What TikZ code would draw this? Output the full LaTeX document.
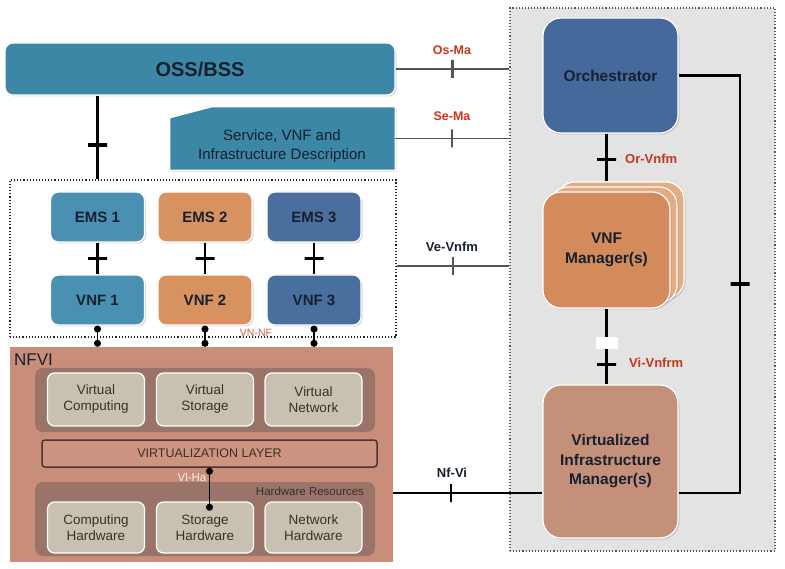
\documentclass[tikz,border=0pt]{standalone}
\usepackage{fontspec}
\setmainfont{Liberation Sans}
\usetikzlibrary{shadows,calc,arrows.meta}
\definecolor{ossc}{HTML}{3C87A5}
\definecolor{emsa}{HTML}{4A90B2}
\definecolor{emsb}{HTML}{D8925F}
\definecolor{emsc}{HTML}{4A6E9E}
\definecolor{orchc}{HTML}{46699B}
\definecolor{vnfmc}{HTML}{D38B5B}
\definecolor{vnfmback}{HTML}{E4AC82}
\definecolor{vimc}{HTML}{C5907A}
\definecolor{nfvic}{HTML}{C98E7A}
\definecolor{grpc}{HTML}{9A7468}
\definecolor{sboxc}{HTML}{C8C1B1}
\definecolor{vlfill}{HTML}{CD9581}
\definecolor{vlborder}{HTML}{4B3530}
\definecolor{manogray}{HTML}{E3E3E3}
\definecolor{txt}{HTML}{17202E}
\definecolor{stxt}{HTML}{3A3128}
\definecolor{redl}{HTML}{C8361C}
\definecolor{thinl}{HTML}{555555}
\tikzset{
  box/.style={rounded corners=8, draw=white, line width=1.2, inner sep=0, align=center,
    text=txt, font=\bfseries\fontsize{15}{20}\selectfont,
    drop shadow={shadow xshift=1.5pt, shadow yshift=-1.5pt, opacity=0.3}},
  sbox/.style={fill=sboxc, draw=white, line width=1.2, rounded corners=7, minimum width=97,
    minimum height=53, inner sep=0, align=center, font=\fontsize{13.5}{16}\selectfont, text=stxt},
  hwbox/.style={sbox, minimum height=51},
  emsbox/.style={box, minimum width=94, minimum height=50},
  bigbox/.style={box, minimum width=135, rounded corners=18, font=\bfseries\fontsize{15.5}{19.5}\selectfont},
  redlbl/.style={text=redl, font=\bfseries\fontsize{12.5}{14}\selectfont, inner sep=0},
  blklbl/.style={text=txt, font=\bfseries\fontsize{13}{14}\selectfont, inner sep=0},
  thinline/.style={draw=thinl, line width=1.1},
  thickline/.style={draw=black, line width=2.6},
  medline/.style={draw=black, line width=1.5},
  vtick/.style={draw, inner sep=0, minimum width=0, minimum height=18, line width=2.2},
  htick/.style={draw, inner sep=0, minimum height=0, minimum width=19, line width=3.2},
  dotends/.style={{Circle[length=7pt]}-{Circle[length=7pt]}},
}
\begin{document}
\begin{tikzpicture}[x=1pt,y=-1pt]
\useasboundingbox (0,0) rectangle (785,569);

% MANO grey area
\node[draw=black!65, dotted, line width=1.1, fill=manogray, minimum width=265, minimum height=543, inner sep=0] (mano) at (642.5,279.5) {};

% OSS/BSS
\node[box, fill=ossc, minimum width=390, minimum height=52, font=\bfseries\fontsize{20}{22}\selectfont] (oss) at (200,69) {OSS/BSS};

% Service description
\node[minimum width=225, minimum height=63, inner sep=0] (svc) at (282.5,138.5) {};
\path[fill=ossc, draw=white, line width=1.2, drop shadow={shadow xshift=1.5pt, shadow yshift=-1.5pt, opacity=0.3}]
  ($(svc.north west)+(0,11)$) -- ($(svc.north west)+(42,0)$) -- (svc.north east) -- (svc.south east) -- (svc.south west) -- cycle;
\node[text=txt, align=center, font=\fontsize{15}{19}\selectfont] (svctext) at (282,146) {Service, VNF and\\Infrastructure Description};

% VNF area
\node[draw=black!85, dotted, line width=1.1, minimum width=386, minimum height=157, inner sep=0] (vnfarea) at (203,258.5) {};
\node[emsbox, fill=emsa] (ems1) at (97.5,217) {EMS 1};
\node[emsbox, fill=emsb] (ems2) at (205,217) {EMS 2};
\node[emsbox, fill=emsc] (ems3) at (314,217) {EMS 3};
\node[emsbox, fill=emsa] (vnf1) at (97.5,300) {VNF 1};
\node[emsbox, fill=emsb] (vnf2) at (205,300) {VNF 2};
\node[emsbox, fill=emsc] (vnf3) at (314,300) {VNF 3};
\draw[thickline] (ems1) -- node[htick]{} (vnf1);
\draw[thickline] (ems2) -- node[htick]{} (vnf2);
\draw[thickline] (ems3) -- node[htick]{} (vnf3);

% OSS to VNF area
\draw[thickline] (oss.south -| ems1.north) -- node[htick, pos=0.59]{} (vnfarea.north -| ems1.north);

% NFVI
\node[fill=nfvic, minimum width=383, minimum height=215, inner sep=0] (nfvi) at (201.5,454.5) {};
\node[anchor=west, text=txt, font=\fontsize{17}{17}\selectfont, inner sep=0] (nfvilbl) at (14,360) {NFVI};
\node[fill=grpc, rounded corners=8, minimum width=340, minimum height=64, inner sep=0] (vgrp) at (205,400) {};
\node[fill=grpc, rounded corners=8, minimum width=340, minimum height=74, inner sep=0] (hgrp) at (205,519) {};
\node[sbox] (vcomp) at (96,399.5) {Virtual\\Computing};
\node[sbox] (vstor) at (205,399.5) {Virtual\\Storage};
\node[sbox] (vnet) at (313.5,399.5) {Virtual\\Network};
\node[draw=vlborder, line width=1.5, fill=vlfill, rounded corners=3, minimum width=335, minimum height=27, inner sep=0,
  font=\fontsize{12.5}{14}\selectfont, text=stxt] (vlayer) at (209.5,453.5) {VIRTUALIZATION LAYER};
\node[text=stxt, font=\fontsize{11.5}{12}\selectfont, inner sep=0] (hwres) at (310,491) {Hardware Resources};
\node[hwbox] (chw) at (96,527.5) {Computing\\Hardware};
\node[hwbox] (shw) at (205,527.5) {Storage\\Hardware};
\node[hwbox] (nhw) at (313.5,527.5) {Network\\Hardware};
\coordinate (vhend) at ($(vlayer.south)+(0,43)$);
\draw[medline, dotends] (vlayer.south) -- (vhend);
\node[text=white!85!nfvic, font=\fontsize{11.5}{12}\selectfont, inner sep=0] (vlha) at (192,477) {Vl-Ha};

% VNF to NFVI
\draw[medline, dotends] (vnf1.south) -- (vnf1.south |- nfvi.north);
\draw[medline, dotends] (vnf2.south) -- (vnf2.south |- nfvi.north);
\draw[medline, dotends] (vnf3.south) -- (vnf3.south |- nfvi.north);
\node[text=redl, font=\fontsize{10.5}{11}\selectfont, inner sep=0, opacity=0.8] (vnnf) at (256,333) {VN-NF};

% MANO boxes
\node[bigbox, fill=orchc, minimum height=115] (orch) at (610.5,75.5) {Orchestrator};
\node[box, fill=vnfmback, minimum width=127, minimum height=116, rounded corners=18] (vnfmb2) at (620.5,240) {};
\node[box, fill=vnfmback, minimum width=127, minimum height=116, rounded corners=18] (vnfmb1) at (613.5,245) {};
\node[bigbox, fill=vnfmc, minimum width=127, minimum height=116] (vnfm) at (606.5,250) {VNF\\Manager(s)};
\node[bigbox, fill=vimc, minimum height=153] (vim) at (610.5,461.5) {Virtualized\\Infrastructure\\Manager(s)};

% reference points
\coordinate (velink) at (0,266);
\coordinate (vimlink) at (0,493);
\coordinate (loopx) at (740,284);

% Os-Ma, Se-Ma, Ve-Vnfm
\draw[thinline] (oss.east) -- node[vtick]{} (mano.west |- oss.east);
\node[redlbl] (osma) at (452,50) {Os-Ma};
\draw[thinline] (svc.east) -- node[vtick]{} (mano.west |- svc.east);
\node[redlbl] (sema) at (452,116) {Se-Ma};
\draw[thinline] (vnfarea.east |- velink) -- node[vtick]{} (mano.west |- velink);
\node[blklbl] (vevnfm) at (452,247) {Ve-Vnfm};

% Or-Vnfm
\draw[thickline] (vnfm.north |- orch.south) -- node[htick, pos=0.55]{} (vnfm.north |- vnfmb2.north);
\node[redlbl, anchor=west, font=\bfseries\fontsize{13}{14}\selectfont] (orvnfm) at (625,159) {Or-Vnfm};

% Vi-Vnfrm
\draw[thickline] (vnfm.south) -- node[htick, pos=0.74]{} node[pos=0.45, fill=white, minimum width=22, minimum height=12, inner sep=0]{} (vnfm.south |- vim.north);
\node[redlbl, anchor=west, font=\bfseries\fontsize{13}{14}\selectfont] (vivnfrm) at (629,363) {Vi-Vnfrm};

% Orchestrator - VIM loop
\draw[thickline] (orch.east) -| (loopx) |- (vim.east |- vimlink);
\node[htick] (looptick) at (loopx) {};

% Nf-Vi
\draw[thickline] (nfvi.east |- vimlink) -- node[vtick, pos=0.39]{} (vim.west |- vimlink);
\node[blklbl] (nfvil) at (452,473) {Nf-Vi};
\end{tikzpicture}
\end{document}
